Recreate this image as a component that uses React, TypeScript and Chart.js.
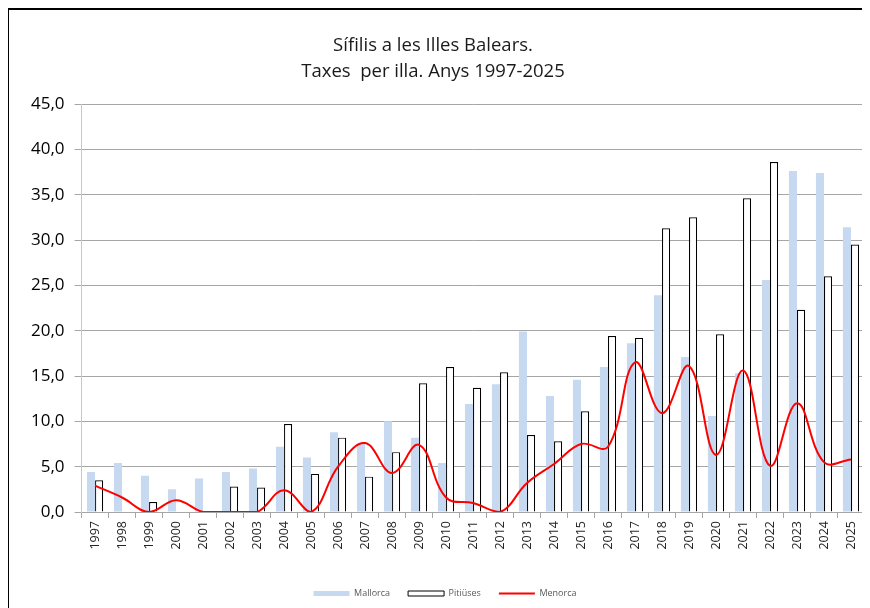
import React, { useEffect, useRef } from "react";
import { Chart, registerables } from "chart.js";

Chart.register(...registerables);

const years = [
  "1997", "1998", "1999", "2000", "2001", "2002", "2003", "2004", "2005", "2006",
  "2007", "2008", "2009", "2010", "2011", "2012", "2013", "2014", "2015", "2016",
  "2017", "2018", "2019", "2020", "2021", "2022", "2023", "2024", "2025",
];

const mallorca = [
  4.4, 5.4, 4.0, 2.5, 3.7, 4.4, 4.8, 7.2, 6.0, 8.8,
  7.5, 10.0, 8.2, 5.4, 11.9, 14.1, 19.9, 12.8, 14.6, 16.0,
  18.6, 23.9, 17.1, 10.6, 15.3, 25.6, 37.6, 37.4, 31.4,
];

const pitiuses = [
  3.5, 0, 1.1, 0, 0, 2.8, 2.7, 9.7, 4.2, 8.2,
  3.9, 6.6, 14.2, 16.0, 13.7, 15.4, 8.5, 7.8, 11.1, 19.4,
  19.2, 31.3, 32.5, 19.6, 34.6, 38.6, 22.3, 26.0, 29.5,
];

const menorca = [
  2.9, 1.6, 0, 1.3, 0, 0, 0, 2.4, 0, 5.0,
  7.6, 4.3, 7.4, 1.6, 1.0, 0, 3.2, 5.3, 7.5, 7.2,
  16.5, 10.9, 16.1, 6.3, 15.6, 5.1, 12.0, 5.5, 5.8,
];

const titleLines = ["Sífilis a les Illes Balears.", "Taxes  per illa. Anys 1997-2025"];
const FONT = "'Open Sans', 'Noto Sans', sans-serif";

export default function App() {
  const canvasRef = useRef<HTMLCanvasElement | null>(null);

  useEffect(() => {
    const canvas = canvasRef.current;
    if (!canvas) return;
    const chart = new Chart(canvas, {
      type: "bar",
      data: {
        labels: years,
        datasets: [
          {
            type: "bar",
            label: "Mallorca",
            data: mallorca,
            backgroundColor: "#c6d9f1",
            borderWidth: 0,
            categoryPercentage: 0.6,
            barPercentage: 1.0,
            order: 1,
          },
          {
            type: "bar",
            label: "Pitiüses",
            data: pitiuses,
            backgroundColor: "#ffffff",
            borderColor: "#000000",
            borderWidth: 1.2,
            categoryPercentage: 0.6,
            barPercentage: 1.0,
            order: 1,
          },
          {
            type: "line",
            label: "Menorca",
            data: menorca,
            borderColor: "#ff0000",
            backgroundColor: "#ff0000",
            borderWidth: 2,
            pointRadius: 0,
            tension: 0.4,
            fill: false,
            order: 0,
          },
        ] as any,
      },
      options: {
        animation: false,
        responsive: false,
        maintainAspectRatio: false,
        layout: { padding: { left: 12, right: 0, top: 94, bottom: 0 } },
        plugins: {
          title: { display: false },
          legend: {
            position: "bottom",
            labels: {
              usePointStyle: true,
              pointStyleWidth: 36,
              boxHeight: 5,
              padding: 18,
              color: "#595959",
              font: { family: FONT, size: 9 },
              generateLabels: (ch: any) => {
                const items = Chart.defaults.plugins.legend.labels.generateLabels(ch);
                items.forEach((it: any) => {
                  if (it.text === "Menorca") {
                    it.pointStyle = "line";
                    it.strokeStyle = "#ff0000";
                    it.lineWidth = 2;
                  } else if (it.text === "Mallorca") {
                    it.pointStyle = "rect";
                    it.fillStyle = "#c6d9f1";
                    it.lineWidth = 0;
                  } else {
                    it.pointStyle = "rect";
                    it.fillStyle = "#ffffff";
                    it.strokeStyle = "#000000";
                    it.lineWidth = 1;
                  }
                });
                const rank: any = { Mallorca: 0, "Pitiüses": 1, Menorca: 2 };
                items.sort((a: any, b: any) => rank[a.text] - rank[b.text]);
                return items;
              },
            },
          },
          tooltip: { enabled: false },
        },
        scales: {
          x: {
            grid: {
              display: true,
              drawOnChartArea: false,
              drawTicks: true,
              tickLength: 6,
              color: "#a6a6a6",
              offset: true,
            },
            border: { display: true, color: "#a6a6a6" },
            ticks: {
              autoSkip: false,
              minRotation: 90,
              maxRotation: 90,
              padding: 3,
              color: "#262626",
              font: { family: FONT, size: 12.5 },
            },
            afterFit: (s: any) => {
              s.height = 59;
            },
          },
          y: {
            min: 0,
            max: 45,
            ticks: {
              stepSize: 5,
              padding: 10,
              color: "#000000",
              font: { family: FONT, size: 17 },
              callback: (v: any) => Number(v).toFixed(1).replace(".", ","),
            },
            grid: { color: "#a6a6a6", tickLength: 7, drawTicks: true },
            border: { display: true, color: "#c8c8c8" },
          },
        },
      } as any,
    });
    return () => chart.destroy();
  }, []);

  return (
    <div
      style={{
        position: "relative",
        width: 862,
        height: 600,
        marginLeft: -1,
        boxSizing: "border-box",
        borderLeft: "2px solid #000",
        borderTop: "2px solid #000",
        overflow: "hidden",
        background: "#fff",
      }}
    >
      <canvas ref={canvasRef} width={860} height={598} style={{ display: "block" }} />
      <div
        style={{
          position: "absolute",
          left: 0,
          top: 0,
          width: 848,
          paddingTop: 21,
          textAlign: "center",
          fontFamily: FONT,
          fontSize: 18.5,
          lineHeight: "26px",
          color: "#1a1a1a",
          whiteSpace: "pre",
        }}
      >
        {titleLines.map((t) => (
          <div key={t}>{t}</div>
        ))}
      </div>
    </div>
  );
}
